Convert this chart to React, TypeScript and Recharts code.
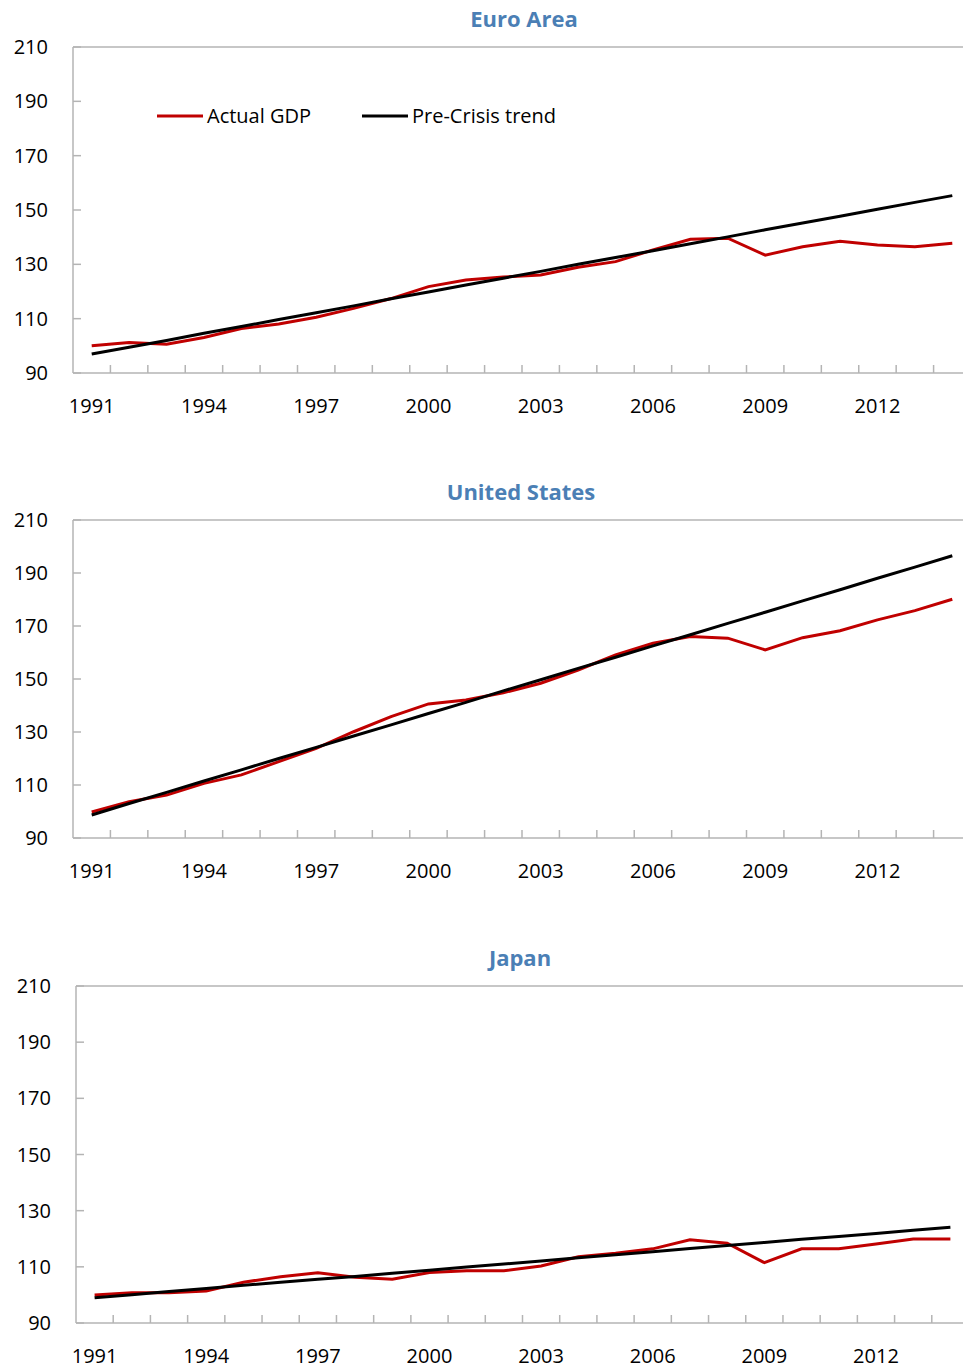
import { LineChart, Line, XAxis, YAxis, ReferenceLine, Legend } from "recharts"

const years = [1991, 1992, 1993, 1994, 1995, 1996, 1997, 1998, 1999, 2000, 2001, 2002, 2003, 2004, 2005, 2006, 2007, 2008, 2009, 2010, 2011, 2012, 2013, 2014]
const yearLabels = [1991, 1994, 1997, 2000, 2003, 2006, 2009, 2012]
const valueTicks = [90, 110, 130, 150, 170, 190, 210]

const euroActual = [100, 101.2, 100.6, 103.1, 106.4, 108, 110.5, 113.8, 117.4, 121.8, 124.2, 125.3, 126.1, 128.9, 131, 135.3, 139.2, 139.6, 133.4, 136.5, 138.5, 137.1, 136.5, 137.8]
const euroTrend = [97, 99.5, 102, 104.6, 107.1, 109.7, 112.2, 114.7, 117.3, 119.8, 122.4, 124.9, 127.4, 130, 132.5, 135, 137.6, 140.1, 142.7, 145.2, 147.7, 150.3, 152.8, 155.3]

const usActual = [99.8, 103.7, 106.2, 110.6, 113.8, 118.8, 123.8, 130.1, 135.8, 140.6, 142.1, 144.8, 148.4, 153.4, 159.1, 163.5, 166, 165.4, 161, 165.6, 168.2, 172.3, 175.8, 180.1]
const usTrend = [98.7, 103, 107.2, 111.5, 115.7, 120, 124.2, 128.5, 132.7, 137, 141.2, 145.5, 149.7, 154, 158.2, 162.5, 166.7, 171, 175.2, 179.5, 183.7, 188, 192.2, 196.5]

const japanActual = [100, 100.8, 100.8, 101.4, 104.5, 106.5, 107.9, 106.3, 105.6, 108, 108.6, 108.6, 110.3, 113.6, 114.8, 116.4, 119.6, 118.4, 111.5, 116.4, 116.4, 118.1, 119.9, 119.9]
const japanTrend = [99, 100.1, 101.2, 102.3, 103.4, 104.5, 105.6, 106.6, 107.7, 108.8, 109.9, 111, 112.1, 113.2, 114.3, 115.4, 116.5, 117.6, 118.7, 119.8, 120.8, 121.9, 123, 124.1]

const FONT = "'Open Sans', 'Noto Sans', sans-serif"
const AXIS = "#b4b4b4"
const RED = "#c00000"
const TITLE = "#4b7fb5"
const X_AXIS_H = 30

// tick marks sit between the years, labels sit on the years
const boundaries = years.map((y) => y + 0.5)
const xTicks = [...yearLabels, ...boundaries]

function rows(actual: number[], trend: number[]) {
  return years.map((year, i) => ({ year, actual: actual[i], trend: trend[i] }))
}

function XTick(props: any) {
  const { x, y, payload } = props
  const v = payload.value
  if (Number.isInteger(v)) {
    return (
      <text x={x} y={y + 40} textAnchor="middle" fontSize={20} fontFamily={FONT} fill="#000">
        {v}
      </text>
    )
  }
  return <line x1={x} x2={x} y1={y} y2={y - 8} stroke={AXIS} strokeWidth={1.5} />
}

function YTick(props: any) {
  const { x, y, payload } = props
  return (
    <g>
      <line x1={x} x2={x + 8} y1={y} y2={y} stroke={AXIS} strokeWidth={1.5} />
      <text x={x - 25} y={y + 7} textAnchor="end" fontSize={20} fontFamily={FONT} fill="#000">
        {payload.value}
      </text>
    </g>
  )
}

function LegendContent() {
  const item = (color: string, label: string, w: number) => (
    <div style={{ display: "flex", alignItems: "center", width: w }}>
      <svg width={48} height={6} style={{ marginRight: 3 }}>
        <line x1={1} x2={47} y1={3} y2={3} stroke={color} strokeWidth={3} />
      </svg>
      <span style={{ fontSize: 20, fontFamily: FONT, color: "#000" }}>{label}</span>
    </div>
  )
  return (
    <div style={{ display: "flex" }}>
      {item(RED, "Actual GDP", 205)}
      {item("#000", "Pre-Crisis trend", 220)}
    </div>
  )
}

interface PanelProps {
  title: string
  titleX: number
  top: number
  actual: number[]
  trend: number[]
  plotTop: number
  plotHeight: number
  axisLeft: number
  plotRight: number
  legend?: boolean
}

function Panel({ title, titleX, top, actual, trend, plotTop, plotHeight, axisLeft, plotRight, legend }: PanelProps) {
  const height = 440
  const width = 985
  return (
    <div style={{ position: "absolute", left: 0, top, width, height }}>
      <div
        style={{
          position: "absolute",
          left: titleX - 150,
          width: 300,
          top: plotTop - 44,
          lineHeight: "30px",
          textAlign: "center",
          fontFamily: FONT,
          fontWeight: 700,
          fontSize: 22,
          color: TITLE,
        }}
      >
        {title}
      </div>
      <LineChart
        width={width}
        height={height}
        data={rows(actual, trend)}
        margin={{ top: plotTop, right: width - plotRight, left: 0, bottom: height - plotTop - plotHeight - X_AXIS_H }}
      >
        <XAxis
          dataKey="year"
          type="number"
          height={X_AXIS_H}
          domain={[1990.5, 2014.5]}
          ticks={xTicks}
          interval={0}
          tick={(p: any) => <XTick {...p} />}
          tickLine={false}
          tickSize={0}
          tickMargin={0}
          axisLine={{ stroke: AXIS, strokeWidth: 1.5 }}
          allowDataOverflow
        />
        <YAxis
          width={axisLeft}
          domain={[90, 210]}
          ticks={valueTicks}
          interval={0}
          tick={(p: any) => <YTick {...p} />}
          tickLine={false}
          tickSize={0}
          tickMargin={0}
          axisLine={{ stroke: AXIS, strokeWidth: 1.5 }}
          allowDataOverflow
        />
        <ReferenceLine y={210} stroke={AXIS} strokeWidth={1.5} />
        {legend && (
          <Legend
            verticalAlign="middle"
            layout="horizontal"
            content={() => <LegendContent />}
            wrapperStyle={{ position: "absolute", top: 102, left: 156, width: 500, height: 28 }}
          />
        )}
        <Line dataKey="actual" name="Actual GDP" stroke={RED} strokeWidth={3} dot={false} isAnimationActive={false} />
        <Line dataKey="trend" name="Pre-Crisis trend" stroke="#000" strokeWidth={3} dot={false} isAnimationActive={false} />
      </LineChart>
    </div>
  )
}

export default function App() {
  return (
    <div style={{ position: "absolute", left: 0, top: 0, width: 963, height: 1370, overflow: "hidden", background: "#fff" }}>
      <Panel title="Euro Area" titleX={524} top={0} actual={euroActual} trend={euroTrend} plotTop={47} plotHeight={326} axisLeft={73} plotRight={971} legend />
      <Panel title="United States" titleX={521} top={470} actual={usActual} trend={usTrend} plotTop={50} plotHeight={318} axisLeft={73} plotRight={971} />
      <Panel title="Japan" titleX={520} top={930} actual={japanActual} trend={japanTrend} plotTop={56} plotHeight={337} axisLeft={76} plotRight={969} />
    </div>
  )
}
